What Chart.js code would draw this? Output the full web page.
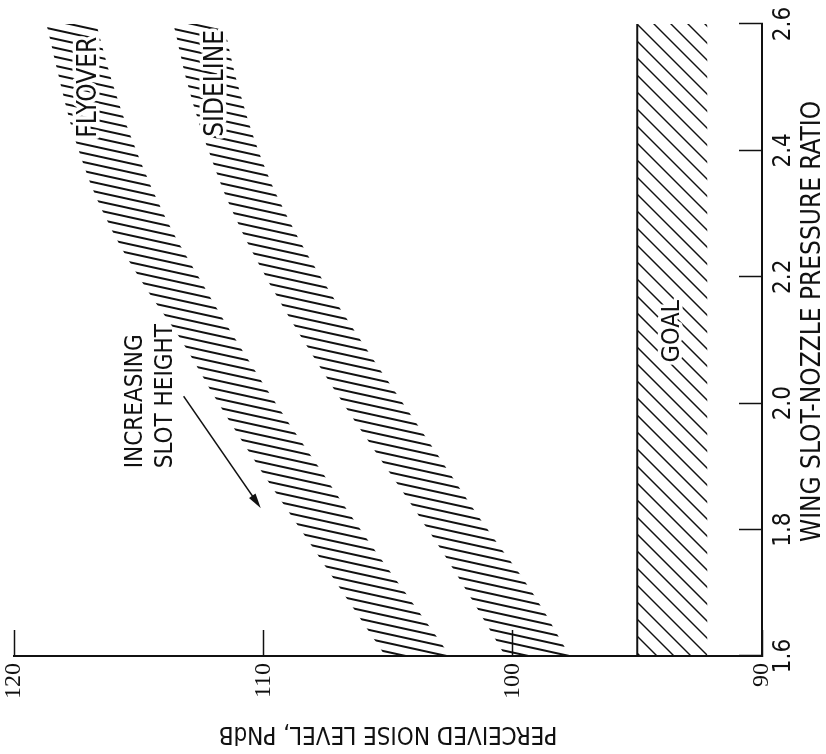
<!DOCTYPE html>
<html>
<head>
<meta charset="utf-8">
<script src="https://cdn.jsdelivr.net/npm/chart.js@4.4.1/dist/chart.umd.min.js"></script>
<style>
  body { margin: 0; background: #fff; overflow: hidden; }
  /* the figure is printed turned a quarter turn, so the whole canvas is turned */
  #wrap { position: absolute; left: 0; top: 754px; width: 754px; height: 826px; transform-origin: 0 0; transform: rotate(-90deg); }
</style>
</head>
<body>
<div id="wrap"><canvas id="noiseChart" width="754" height="826"></canvas></div>
<script>
// wing slot-nozzle pressure ratio stations
const pressureRatio = [1.6, 1.7, 1.8, 1.9, 2.0, 2.1, 2.2, 2.3, 2.4, 2.5, 2.6];
// band edges, PNdB
const flyoverHigh  = [105.1, 106.8, 108.5, 110.2, 111.8, 113.3, 115.0, 116.4, 117.4, 118.1, 118.7];
const flyoverLow   = [102.5, 104.3, 106.1, 107.8, 109.5, 111.1, 112.6, 114.0, 115.1, 116.0, 116.7];
const sidelineHigh = [100.3, 101.8, 103.4, 105.1, 106.8, 108.4, 109.9, 111.2, 112.2, 113.0, 113.6];
const sidelineLow  = [97.7, 99.2, 101.0, 102.7, 104.4, 106.1, 107.7, 109.1, 110.2, 111.0, 111.6];
// goal line and the edge of its hatching
const goalRatio = [1.6, 2.6];
const goalLevel = [95, 95];
const goalHatch = [92.2, 92.2];
// tick values
const ratioTicks = [1.6, 1.8, 2.0, 2.2, 2.4, 2.6];
const noiseTicks = [90, 100, 110, 120];

const narrow = '"Liberation Sans Narrow", "DejaVu Sans Condensed", "Arial Narrow", sans-serif';

function pts(xs, ys) {
    return xs.map((v, i) => ({ x: v, y: ys[i] }));
}

// hatch patterns, drawn on a canvas the size of the chart so they line up
function hatch(dx, step, width) {
    const c = document.createElement('canvas');
    c.width = 754;
    c.height = 826;
    const g = c.getContext('2d');
    g.strokeStyle = '#111';
    g.lineWidth = width;
    const shift = dx * 826;
    for (let u = -Math.abs(shift); u < 754 + Math.abs(shift) + step; u += step) {
        g.beginPath();
        g.moveTo(u, 0);
        g.lineTo(u + shift, 826);
        g.stroke();
    }
    return g.createPattern(c, 'no-repeat');
}
const bandFill = hatch(-0.22, 9, 2);
const goalFill = hatch(-1, 17, 1.5);

// text and arrow drawn in the plot
const notes = {
    id: 'notes',
    afterDatasetsDraw(chart) {
        const { ctx, scales: { x, y } } = chart;
        ctx.save();
        ctx.fillStyle = '#111';
        ctx.textBaseline = 'middle';
        const label = (text, r, db, align, halo, size) => {
            ctx.font = size + 'px ' + narrow;
            ctx.textAlign = align;
            const px = x.getPixelForValue(r), py = y.getPixelForValue(db);
            if (halo) {
                ctx.strokeStyle = '#fff';
                ctx.lineWidth = 7;
                ctx.lineJoin = 'round';
                ctx.strokeText(text, px, py);
            }
            ctx.fillText(text, px, py);
        };
        label('FLYOVER', 2.50, 117.0, 'center', true, 26);
        label('SIDELINE', 2.506, 111.9, 'center', true, 26);
        label('GOAL', 2.114, 93.6, 'center', true, 25);
        label('INCREASING', 1.897, 115.1, 'left', false, 24);
        label('SLOT HEIGHT', 1.897, 113.9, 'left', false, 24);

        // arrow
        const x0 = x.getPixelForValue(2.011), y0 = y.getPixelForValue(113.2);
        const x1 = x.getPixelForValue(1.834), y1 = y.getPixelForValue(110.1);
        const a = Math.atan2(y1 - y0, x1 - x0);
        ctx.strokeStyle = '#111';
        ctx.lineWidth = 1.5;
        ctx.beginPath();
        ctx.moveTo(x0, y0);
        ctx.lineTo(x1 - 10 * Math.cos(a), y1 - 10 * Math.sin(a));
        ctx.stroke();
        ctx.beginPath();
        ctx.moveTo(x1, y1);
        ctx.lineTo(x1 - 15 * Math.cos(a) + 4 * Math.sin(a), y1 - 15 * Math.sin(a) - 4 * Math.cos(a));
        ctx.lineTo(x1 - 15 * Math.cos(a) - 4 * Math.sin(a), y1 - 15 * Math.sin(a) + 4 * Math.cos(a));
        ctx.closePath();
        ctx.fill();
        ctx.restore();
    }
};

const band = (data, fill, bg) => ({
    data: data,
    borderWidth: 0,
    pointRadius: 0,
    tension: 0.4,
    fill: fill,
    backgroundColor: bg || 'transparent'
});

new Chart(document.getElementById('noiseChart'), {
    type: 'line',
    data: {
        datasets: [
            band(pts(pressureRatio, flyoverHigh), false),
            band(pts(pressureRatio, flyoverLow), '-1', bandFill),
            band(pts(pressureRatio, sidelineHigh), false),
            band(pts(pressureRatio, sidelineLow), '-1', bandFill),
            band(pts(goalRatio, goalHatch), false),
            {
                data: pts(goalRatio, goalLevel),
                borderColor: '#111',
                borderWidth: 2,
                pointRadius: 0,
                fill: '-1',
                backgroundColor: goalFill
            }
        ]
    },
    options: {
        responsive: false,
        devicePixelRatio: 1,
        animation: false,
        layout: { padding: { top: 14, right: 24, left: 0, bottom: 0 } },
        plugins: { legend: { display: false }, tooltip: { enabled: false } },
        scales: {
            x: {
                type: 'linear',
                min: 1.6,
                max: 2.6,
                afterBuildTicks: s => { s.ticks = ratioTicks.map(v => ({ value: v })); },
                afterFit: s => { s.height = 64; s.paddingLeft = 0; s.paddingRight = 0; },
                grid: { drawOnChartArea: false, tickLength: -23, tickColor: '#111', tickWidth: 1.5 },
                border: { color: '#111', width: 2 },
                ticks: {
                    maxRotation: 0,
                    padding: 30,
                    color: '#111',
                    font: { family: narrow, size: 24 },
                    callback: v => Number(v).toFixed(1)
                },
                title: {
                    display: true,
                    // leading spaces nudge the title toward the high-ratio end, as printed
                    text: '     WING SLOT-NOZZLE PRESSURE RATIO',
                    color: '#111',
                    font: { family: narrow, size: 26, lineHeight: 1 },
                    padding: { top: 0, bottom: 0 }
                }
            },
            y: {
                type: 'linear',
                min: 90,
                max: 120,
                afterBuildTicks: s => { s.ticks = noiseTicks.map(v => ({ value: v })); },
                afterFit: s => { s.width = 98; s.paddingTop = 0; s.paddingBottom = 0; },
                grid: { drawOnChartArea: false, tickLength: -26, tickColor: '#111', tickWidth: 1.5 },
                border: { color: '#111', width: 2 },
                ticks: {
                    padding: 33,
                    color: '#111',
                    font: { family: '"Liberation Serif", serif', size: 24 }
                },
                title: {
                    display: true,
                    text: 'PERCEIVED NOISE LEVEL, PNdB',
                    color: '#111',
                    font: { family: narrow, size: 24, lineHeight: 1 },
                    padding: { top: 9, bottom: 0 }
                }
            }
        }
    },
    plugins: [notes]
});
</script>
</body>
</html>
